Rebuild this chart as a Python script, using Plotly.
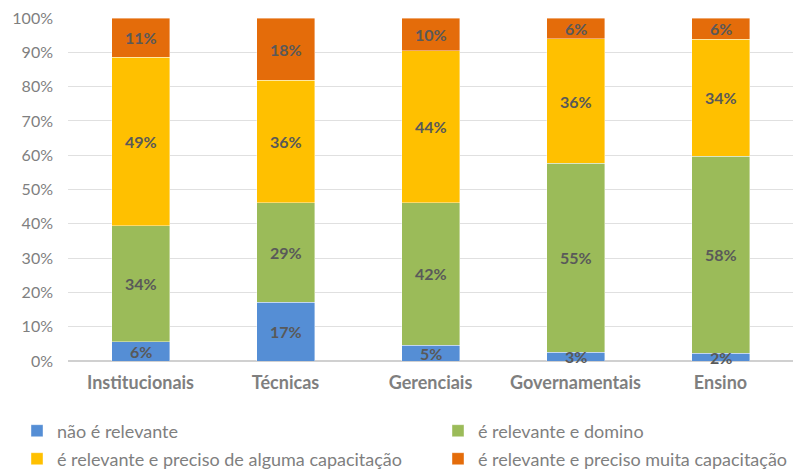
import plotly.graph_objects as go

categories = ["Institucionais", "Técnicas", "Gerenciais", "Governamentais", "Ensino"]
series_names = [
    "não é relevante",
    "é relevante e domino",
    "é relevante e preciso de alguma capacitação",
    "é relevante e preciso muita capacitação",
]
nao_relevante = [5.6, 17.1, 4.6, 2.6, 2.2]
relevante_domino = [33.8, 29.1, 41.6, 55.0, 57.5]
alguma_capacitacao = [49.2, 35.7, 44.3, 36.3, 34.1]
muita_capacitacao = [11.4, 18.1, 9.5, 6.1, 6.2]
colors = ["#558ED5", "#9BBB59", "#FFC000", "#E46C0A"]
y_ticks = list(range(0, 101, 10))

FONT = "Lato, 'Open Sans', sans-serif"
W, H = 798, 471
M = dict(l=68, r=5, t=18, b=110)
plot_w = W - M["l"] - M["r"]
plot_h = H - M["t"] - M["b"]

def px_to_paper_x(px):
    return (px - M["l"]) / plot_w

def px_to_paper_y(py):
    return (H - M["b"] - py) / plot_h

all_series = [nao_relevante, relevante_domino, alguma_capacitacao, muita_capacitacao]
legend_ids = ["legend", "legend2", "legend3", "legend4"]

fig = go.Figure()
for name, vals, col, lg in zip(series_names, all_series, colors, legend_ids):
    fig.add_trace(go.Bar(
        x=categories, y=vals, name=name, legend=lg,
        marker=dict(color=col, line=dict(color="rgba(255,255,255,0.5)", width=0.8)),
        width=0.4,
        hoverinfo="skip",
    ))

# segment labels at the middle of each stacked piece
base = [0.0] * len(categories)
for vals in all_series:
    for i, (cat, v) in enumerate(zip(categories, vals)):
        fig.add_annotation(
            x=cat, y=base[i] + v / 2, text=f"{int(v + 0.5)}%",
            showarrow=False, xanchor="center", yanchor="middle",
            font=dict(family=FONT, size=16, color="#595959", weight="bold"),
        )
        base[i] += v

# one single-entry legend per series, arranged in a 2x2 grid below the chart
legend_pos = [(17, 431), (438, 431), (17, 459), (438, 459)]
legend_layout = {}
for lg, (lx, ly) in zip(legend_ids, legend_pos):
    legend_layout[lg] = dict(
        orientation="h", x=px_to_paper_x(lx), xanchor="left",
        y=px_to_paper_y(ly), yanchor="middle",
        font=dict(family=FONT, size=18, color="#7F7F7F"),
        itemclick=False, itemdoubleclick=False, bgcolor="rgba(0,0,0,0)",
    )

fig.update_layout(
    barmode="stack",
    width=W, height=H,
    margin=dict(**M, autoexpand=False),
    paper_bgcolor="white", plot_bgcolor="white",
    font=dict(family=FONT, color="#7F7F7F"),
    showlegend=True,
    **legend_layout,
)
fig.update_xaxes(
    showgrid=False, showline=False, ticks="",
    ticklabelstandoff=9,
    tickfont=dict(family=FONT, size=18, color="#7F7F7F", weight="bold"),
)
fig.update_yaxes(
    range=[0, 100], tickvals=y_ticks, ticktext=[f"{t}%" for t in y_ticks],
    showgrid=True, gridcolor="#E0E0E0", gridwidth=1,
    zeroline=True, zerolinecolor="#D0D0D0", zerolinewidth=2,
    showline=False, ticks="", ticklabelstandoff=14,
    tickfont=dict(family=FONT, size=16, color="#7F7F7F"),
)

fig.write_html("out.html")
